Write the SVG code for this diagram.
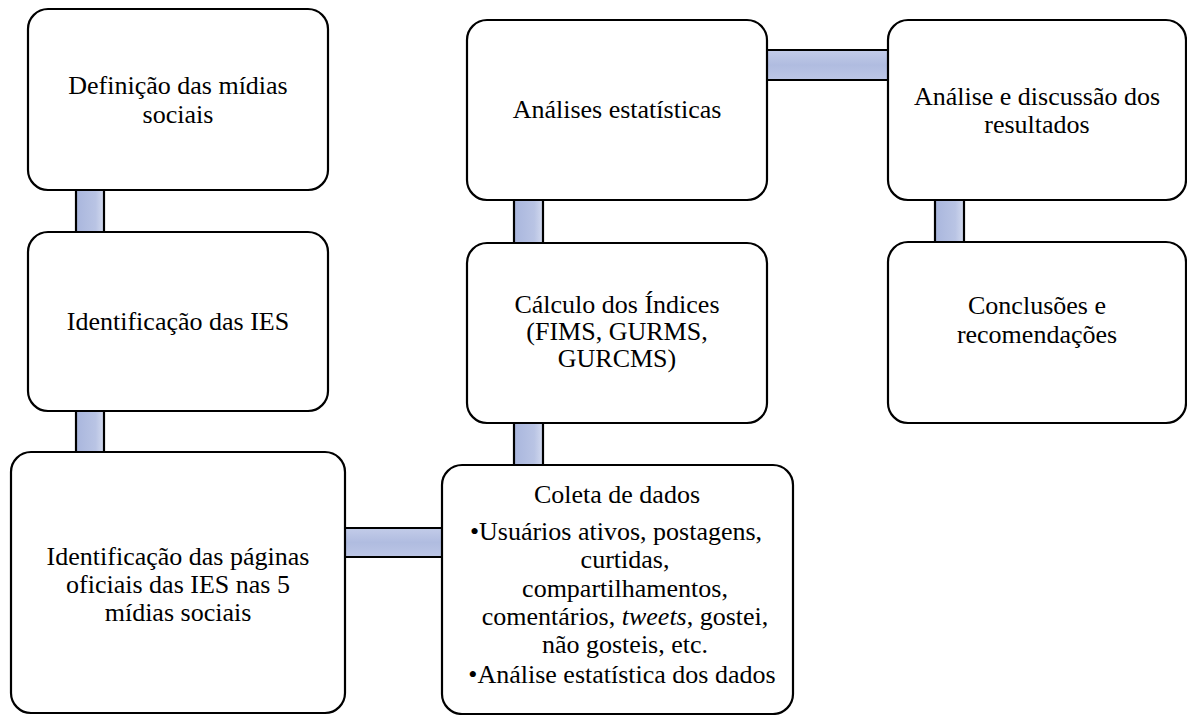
<svg xmlns="http://www.w3.org/2000/svg" width="1187" height="715" viewBox="0 0 1187 715" font-family="'Liberation Serif', 'Times New Roman', Times, serif">
<defs>
<linearGradient id="gv" x1="0" y1="0" x2="1" y2="0">
<stop offset="0" stop-color="#a9b6dd"/>
<stop offset="0.7" stop-color="#b9c4e4"/>
<stop offset="1" stop-color="#d3daef"/>
</linearGradient>
<linearGradient id="gh" x1="0" y1="0" x2="0" y2="1">
<stop offset="0" stop-color="#c3cce9"/>
<stop offset="0.5" stop-color="#b0bce0"/>
<stop offset="1" stop-color="#bcc6e6"/>
</linearGradient>
<style>
.box{fill:#ffffff;stroke:#000000;stroke-width:2.2}
.cv{fill:url(#gv);stroke:none}
.ch{fill:url(#gh);stroke:none}
.edge{stroke:#000000;stroke-width:2.2}
text{font-family:'Liberation Serif','Times New Roman',Times,serif;font-size:26px;fill:#000000;text-anchor:middle}
</style>
</defs>
<rect width="1187" height="715" fill="#ffffff"/>
<g id="connectors">
<rect class="cv" x="76" y="189" width="28" height="44"/>
<line class="edge" x1="76" y1="189" x2="76" y2="233"/><line class="edge" x1="104" y1="189" x2="104" y2="233"/>
<rect class="cv" x="76" y="410" width="28" height="43"/>
<line class="edge" x1="76" y1="410" x2="76" y2="453"/><line class="edge" x1="104" y1="410" x2="104" y2="453"/>
<rect class="ch" x="344" y="528" width="99" height="29"/>
<line class="edge" x1="344" y1="528" x2="443" y2="528"/><line class="edge" x1="344" y1="557" x2="443" y2="557"/>
<rect class="cv" x="514" y="422" width="29" height="44"/>
<line class="edge" x1="514" y1="422" x2="514" y2="466"/><line class="edge" x1="543" y1="422" x2="543" y2="466"/>
<rect class="cv" x="514" y="199" width="29" height="45"/>
<line class="edge" x1="514" y1="199" x2="514" y2="244"/><line class="edge" x1="543" y1="199" x2="543" y2="244"/>
<rect class="ch" x="766" y="50" width="123" height="30"/>
<line class="edge" x1="766" y1="50" x2="889" y2="50"/><line class="edge" x1="766" y1="80" x2="889" y2="80"/>
<rect class="cv" x="935" y="199" width="29" height="44"/>
<line class="edge" x1="935" y1="199" x2="935" y2="243"/><line class="edge" x1="964" y1="199" x2="964" y2="243"/>
</g>
<g id="n1">
<rect class="box" x="28" y="9" width="300" height="181" rx="20"/>
<text x="178" y="94">Definição das mídias</text>
<text x="178" y="123">sociais</text>
</g>
<g id="n2">
<rect class="box" x="28" y="232" width="300" height="179" rx="20"/>
<text x="178" y="330">Identificação das IES</text>
</g>
<g id="n3">
<rect class="box" x="11" y="452" width="334" height="261" rx="20"/>
<text x="178" y="565">Identificação das páginas</text>
<text x="178" y="593">oficiais das IES nas 5</text>
<text x="178" y="621">mídias sociais</text>
</g>
<g id="n4">
<rect class="box" x="442" y="465" width="351" height="249" rx="20"/>
<text x="617" y="503">Coleta de dados</text>
<text x="616" y="540">•Usuários ativos, postagens,</text>
<text x="625" y="568">curtidas,</text>
<text x="625" y="597">compartilhamentos,</text>
<text x="625" y="625">comentários, <tspan font-style="italic">tweets</tspan>, gostei,</text>
<text x="625" y="653">não gosteis, etc.</text>
<text x="622" y="683">•Análise estatística dos dados</text>
</g>
<g id="n5">
<rect class="box" x="467" y="243" width="300" height="180" rx="20"/>
<text x="617" y="313">Cálculo dos Índices</text>
<text x="617" y="340">(FIMS, GURMS,</text>
<text x="617" y="367">GURCMS)</text>
</g>
<g id="n6">
<rect class="box" x="467" y="20" width="300" height="180" rx="20"/>
<text x="617" y="118">Análises estatísticas</text>
</g>
<g id="n7">
<rect class="box" x="888" y="20" width="298" height="180" rx="20"/>
<text x="1037" y="105">Análise e discussão dos</text>
<text x="1037" y="133">resultados</text>
</g>
<g id="n8">
<rect class="box" x="888" y="242" width="298" height="181" rx="20"/>
<text x="1037" y="314">Conclusões e</text>
<text x="1037" y="343">recomendações</text>
</g>
</svg>
